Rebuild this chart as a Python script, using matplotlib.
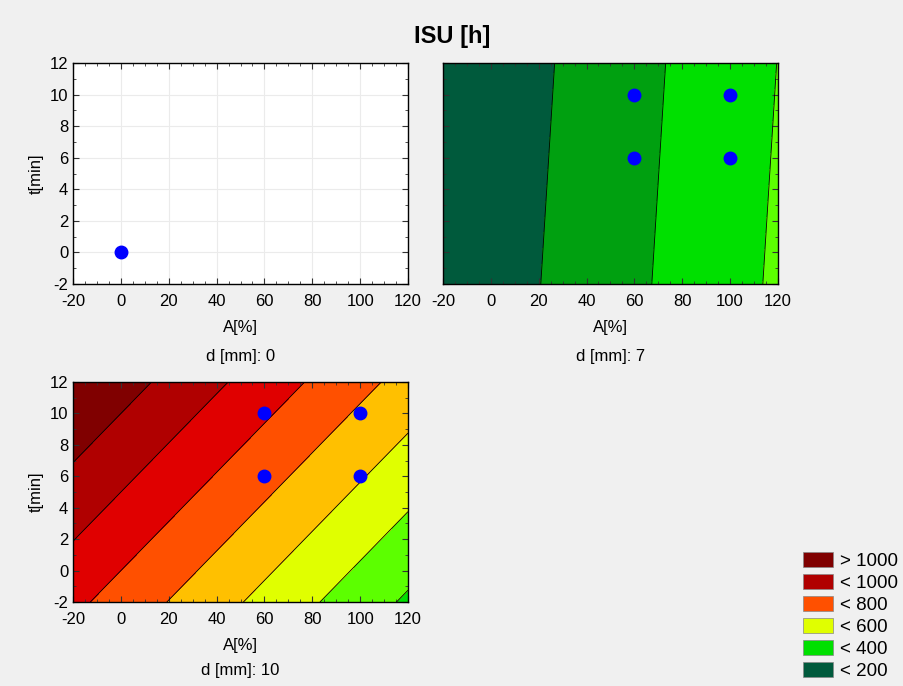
import numpy as np
import matplotlib
matplotlib.use("Agg")
import matplotlib.pyplot as plt
from matplotlib.patches import Patch
from matplotlib.ticker import MultipleLocator

plt.rcParams['font.family'] = ['Liberation Sans', 'DejaVu Sans']
plt.rcParams['axes.unicode_minus'] = False

# design points per panel (A[%], t[min])
pts_d0_A = [0]
pts_d0_t = [0]
pts_A = [60, 60, 100, 100]
pts_t = [6, 10, 6, 10]

# fitted surface ISU = c + a*A + b*t for d = 7 and d = 10
d_values = [7, 10]
c_coef = [153.2, 800.0]
a_coef = [2.155, -3.125]
b_coef = [-0.89, 20.0]

levels = [-10000, 200, 300, 400, 500, 600, 700, 800, 900, 1000, 10000]
colors = ['#005a3c', '#00a010', '#00e000', '#5cff00', '#e0ff00',
          '#ffc000', '#ff5000', '#e00000', '#b00000', '#800000']
legend_labels = ['> 1000', '< 1000', '< 800', '< 600', '< 400', '< 200']
legend_colors = ['#800000', '#b00000', '#ff5000', '#e0ff00', '#00e000', '#005a3c']

fig = plt.figure(figsize=(9.04, 6.86), dpi=100)
fig.patch.set_facecolor('#f0f0f0')

w, h = 0.3705, 0.322
ax1 = fig.add_axes([0.0808, 0.586, w, h])
ax2 = fig.add_axes([0.490, 0.586, w, h])
ax3 = fig.add_axes([0.0808, 0.1224, w, 0.3207])


def style(ax, ylab=True):
    ax.set_xlim(-20, 120)
    ax.set_ylim(-2, 12)
    ax.xaxis.set_major_locator(MultipleLocator(20))
    ax.xaxis.set_minor_locator(MultipleLocator(5))
    ax.yaxis.set_major_locator(MultipleLocator(2))
    ax.yaxis.set_minor_locator(MultipleLocator(1))
    ax.tick_params(which='both', direction='in', top=True, right=True,
                   labelsize=12, color='#333333')
    ax.tick_params(axis='x', which='major', pad=7)
    ax.tick_params(which='major', length=4)
    ax.tick_params(which='minor', length=2)
    ax.set_xlabel('A[%]', fontsize=12, labelpad=8)
    if ylab:
        ax.set_ylabel('t[min]', fontsize=12, labelpad=4)
    else:
        ax.set_yticklabels([])
    for s in ax.spines.values():
        s.set_linewidth(1.0)


# d = 0: empty with grid
ax1.set_facecolor('white')
ax1.grid(True, color='#ebebeb', linewidth=0.8)
ax1.set_axisbelow(True)
ax1.plot(pts_d0_A, pts_d0_t, 'o', color='#0000ff', markersize=9, zorder=5)
style(ax1)

A = np.linspace(-20, 120, 300)
T = np.linspace(-2, 12, 300)
AA, TT = np.meshgrid(A, T)

for ax, c, a, b, ylab in [(ax2, c_coef[0], a_coef[0], b_coef[0], False),
                          (ax3, c_coef[1], a_coef[1], b_coef[1], True)]:
    Z = c + a * AA + b * TT
    ax.contourf(AA, TT, Z, levels=levels, colors=colors)
    ax.contour(AA, TT, Z, levels=levels[1:-1], colors='black', linewidths=0.6)
    ax.plot(pts_A, pts_t, 'o', color='#0000ff', markersize=9, zorder=5)
    style(ax, ylab)

fig.text(0.2661, 0.481, 'd [mm]: 0', ha='center', va='center', fontsize=12)
fig.text(0.6753, 0.481, 'd [mm]: %d' % d_values[0], ha='center', va='center', fontsize=12)
fig.text(0.2661, 0.022, 'd [mm]: %d' % d_values[1], ha='center', va='center', fontsize=12)

fig.text(0.5, 0.947, 'ISU [h]', ha='center', va='center', fontsize=17, fontweight='bold')

handles = [Patch(facecolor=col, edgecolor='#888888', linewidth=0.5) for col in legend_colors]
fig.legend(handles, legend_labels, loc='lower right', bbox_to_anchor=(1.005, -0.006),
           frameon=False, fontsize=13.5, handlelength=1.6, handleheight=0.85,
           labelspacing=0.21, handletextpad=0.4, borderaxespad=0.15)

fig.savefig('out.png', dpi=100, facecolor=fig.get_facecolor())
